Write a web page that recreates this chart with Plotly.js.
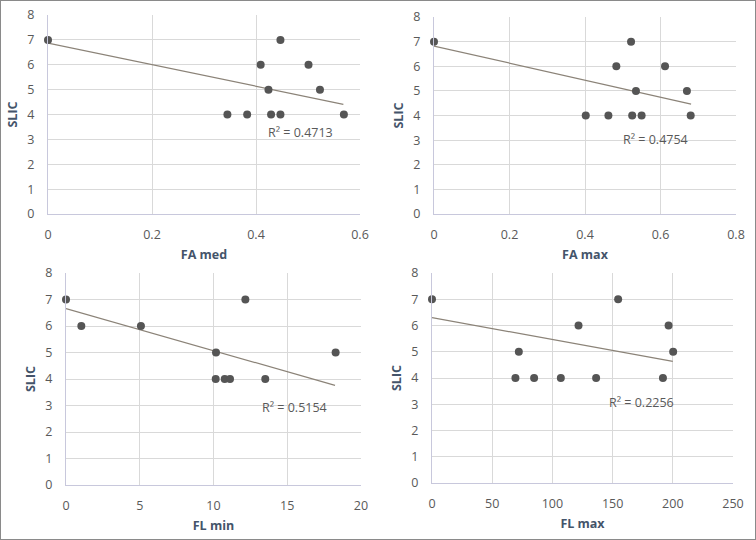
<!DOCTYPE html>
<html>
<head>
<meta charset="utf-8">
<script src="https://cdn.plot.ly/plotly-3.0.1.min.js"></script>
<style>
html,body{margin:0;padding:0;background:#fff;}
#chart{width:756px;height:540px;}
</style>
</head>
<body>
<div id="chart"></div>
<script>
// ---- data ----
var slicLabel = "SLIC";

var faMedX = [0, 0.345, 0.383, 0.409, 0.424, 0.429, 0.447, 0.447, 0.501, 0.523, 0.569];
var faMedY = [7, 4, 4, 6, 5, 4, 7, 4, 6, 5, 4];
var faMedTrendX = [0, 0.568];
var faMedTrendY = [6.87, 4.41];
var faMedR2 = "R² = 0.4713";

var faMaxX = [0, 0.402, 0.462, 0.483, 0.522, 0.525, 0.535, 0.550, 0.612, 0.670, 0.680];
var faMaxY = [7, 4, 4, 6, 7, 4, 5, 4, 6, 5, 4];
var faMaxTrendX = [0, 0.681];
var faMaxTrendY = [6.82, 4.46];
var faMaxR2 = "R² = 0.4754";

var flMinX = [0, 1.04, 5.08, 10.17, 10.15, 10.76, 11.12, 12.16, 13.51, 18.28];
var flMinY = [7, 6, 6, 5, 4, 4, 4, 7, 4, 5];
var flMinTrendX = [0, 18.24];
var flMinTrendY = [6.66, 3.76];
var flMinR2 = "R² = 0.5154";

var flMaxX = [0, 69.3, 72.1, 84.8, 107, 121.7, 136.3, 154.6, 191.8, 196.5, 200.3];
var flMaxY = [7, 4, 5, 4, 4, 6, 4, 7, 4, 6, 5];
var flMaxTrendX = [0, 200];
var flMaxTrendY = [6.30, 4.63];
var flMaxR2 = "R² = 0.2256";

var xTitles = ["FA med", "FA max", "FL min", "FL max"];
var xRanges = [[0, 0.6], [0, 0.8], [0, 20], [0, 250]];
var xDticks = [0.2, 0.2, 5, 50];
var yRange = [0, 8];

// ---- layout helpers ----
var W = 756, H = 540;
function fx(px){ return px / W; }
function fy(px){ return 1 - px / H; }

var panels = [
  {x: faMedX, y: faMedY, tx: faMedTrendX, ty: faMedTrendY, r2: faMedR2,
   dom: [48, 360, 15, 214], r2pos: [300, 132]},
  {x: faMaxX, y: faMaxY, tx: faMaxTrendX, ty: faMaxTrendY, r2: faMaxR2,
   dom: [434, 736, 17, 214], r2pos: [655, 139]},
  {x: flMinX, y: flMinY, tx: flMinTrendX, ty: flMinTrendY, r2: flMinR2,
   dom: [66, 361, 273, 485], r2pos: [294, 407]},
  {x: flMaxX, y: flMaxY, tx: flMaxTrendX, ty: flMaxTrendY, r2: flMaxR2,
   dom: [432, 733, 273, 483], r2pos: [641, 402]}
];

var tickFont = {family: "Open Sans, sans-serif", size: 12.5, color: "#595959"};
var titleFont = {family: "Open Sans, sans-serif", size: 12.5, color: "#44546a", weight: "bold"};

var data = [];
var layout = {
  width: W, height: H,
  margin: {l: 0, r: 0, t: 0, b: 0},
  paper_bgcolor: "#ffffff",
  plot_bgcolor: "#ffffff",
  showlegend: false,
  annotations: [],
  shapes: [{type: "rect", xref: "paper", yref: "paper", x0: 0, x1: 1, y0: 0, y1: 1,
            line: {color: "#8a8a8a", width: 2}}]
};

panels.forEach(function(p, i){
  var n = i + 1;
  var xa = "x" + (n === 1 ? "" : n), ya = "y" + (n === 1 ? "" : n);
  data.push({
    type: "scatter", mode: "lines", x: p.tx, y: p.ty, xaxis: xa, yaxis: ya,
    line: {color: "#8b8378", width: 1.2}, hoverinfo: "skip"
  });
  data.push({
    type: "scatter", mode: "markers", x: p.x, y: p.y, xaxis: xa, yaxis: ya,
    marker: {color: "#555555", size: 8}, cliponaxis: false
  });
  var xk = "xaxis" + (n === 1 ? "" : n), yk = "yaxis" + (n === 1 ? "" : n);
  layout[xk] = {
    domain: [fx(p.dom[0]), fx(p.dom[1])],
    anchor: ya, range: xRanges[i], dtick: xDticks[i], tick0: 0,
    showgrid: true, gridcolor: "#d9d9d9", gridwidth: 1,
    zeroline: false, showline: true, linecolor: "#c8c8dc", linewidth: 1,
    ticks: "outside", ticklen: 9, tickcolor: "rgba(0,0,0,0)",
    tickfont: tickFont,
    title: {text: xTitles[i], font: titleFont, standoff: 8}
  };
  layout[yk] = {
    domain: [fy(p.dom[3]), fy(p.dom[2])],
    anchor: xa, range: yRange, dtick: 1, tick0: 0,
    showgrid: true, gridcolor: "#d9d9d9", gridwidth: 1,
    zeroline: false, showline: true, linecolor: "#c8c8dc", linewidth: 1,
    ticks: "outside", ticklen: 10, tickcolor: "rgba(0,0,0,0)",
    tickfont: tickFont,
    title: {text: slicLabel, font: titleFont, standoff: 6}
  };
  layout.annotations.push({
    xref: "paper", yref: "paper", x: fx(p.r2pos[0]), y: fy(p.r2pos[1]),
    xanchor: "center", yanchor: "middle", showarrow: false,
    text: p.r2, font: {family: "Open Sans, sans-serif", size: 12.5, color: "#595959"}
  });
});

Plotly.newPlot("chart", data, layout, {staticPlot: true, displayModeBar: false});
</script>
</body>
</html>
